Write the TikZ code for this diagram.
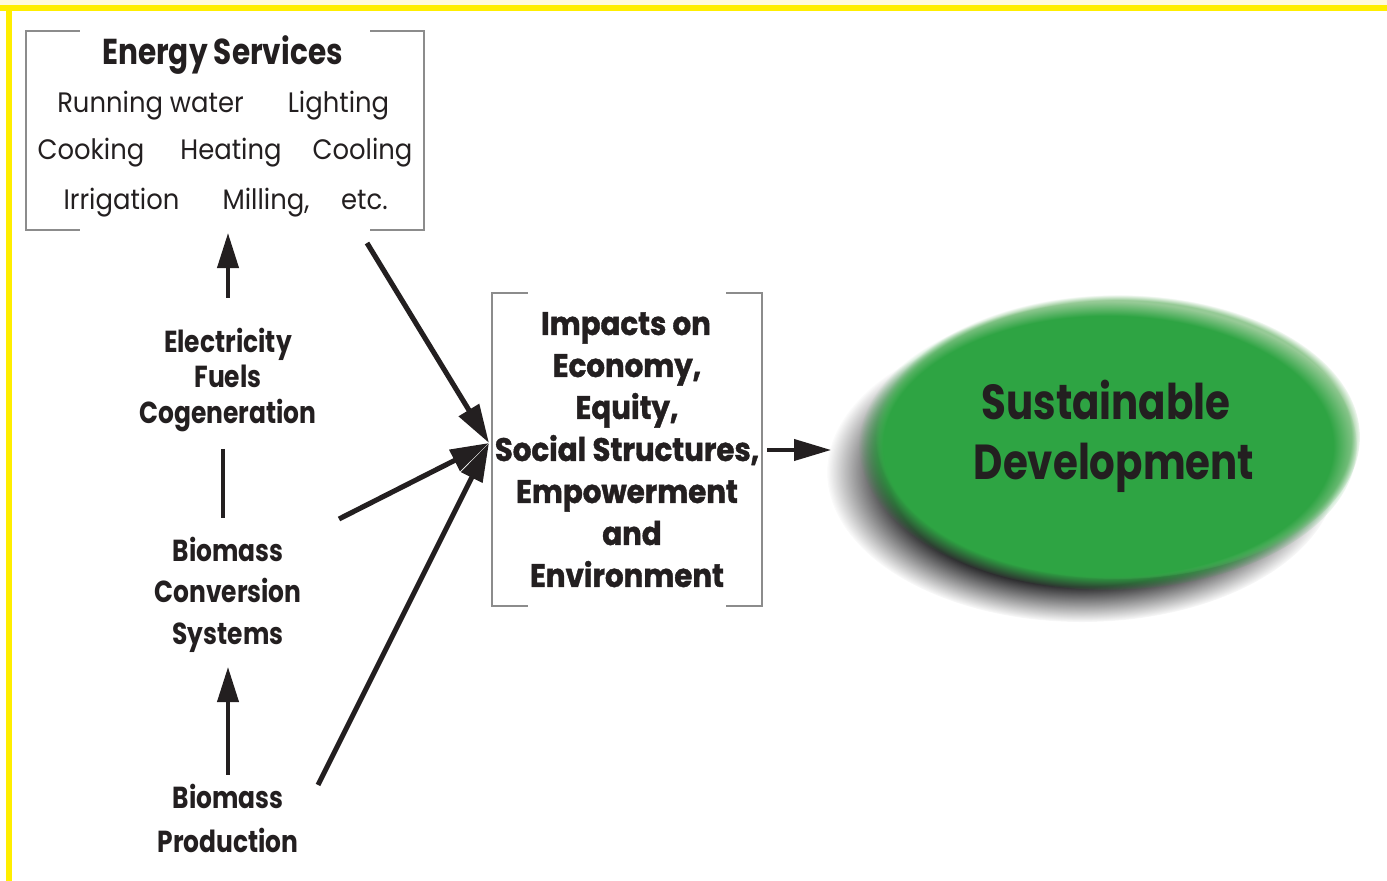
\documentclass[tikz,border=0pt]{standalone}
\usepackage{fontspec}
\setmainfont{Poppins}
\newfontfamily\regf[FakeStretch=0.92]{Poppins}
\newfontfamily\boldf[FakeStretch=0.82]{Poppins}
\newfontfamily\heavyf[FakeStretch=0.9,FakeBold=1.2]{Poppins}
\usetikzlibrary{arrows.meta,fadings}
\definecolor{borderyellow}{HTML}{FFEE00}
\definecolor{borderpale}{HTML}{FFFADC}
\definecolor{brk}{RGB}{140,140,140}
\definecolor{sdgreen}{RGB}{46,164,67}
\definecolor{sdlight}{RGB}{150,202,150}
\definecolor{txt}{RGB}{35,31,32}
\definecolor{shadowc}{RGB}{45,45,47}
\pgfdeclareradialshading{fuzzshadow}{\pgfpointorigin}{color(0bp)=(pgftransparent!0); color(19bp)=(pgftransparent!0); color(25bp)=(pgftransparent!100); color(50bp)=(pgftransparent!100)}
\pgfdeclarefading{shadowfuzz}{\pgfuseshading{fuzzshadow}}
\pgfdeclareradialshading{fuzzgreen}{\pgfpointorigin}{color(0bp)=(pgftransparent!0); color(22.5bp)=(pgftransparent!0); color(25bp)=(pgftransparent!100); color(50bp)=(pgftransparent!100)}
\pgfdeclarefading{greenfuzz}{\pgfuseshading{fuzzgreen}}
\pgfdeclareradialshading{fuzzlight}{\pgfpointorigin}{color(0bp)=(pgftransparent!0); color(24bp)=(pgftransparent!0); color(25bp)=(pgftransparent!100); color(50bp)=(pgftransparent!100)}
\pgfdeclarefading{lightfuzz}{\pgfuseshading{fuzzlight}}
\tikzset{
  regtxt/.style={font=\regf\fontsize{16}{16}\selectfont, text=txt, anchor=base, inner sep=0pt},
  titletxt/.style={font=\boldf\bfseries\fontsize{20.5}{20.5}\selectfont, text=txt, anchor=base, inner sep=0pt},
  lefttxt/.style={font=\boldf\bfseries\fontsize{17.3}{17.3}\selectfont, text=txt, anchor=base, inner sep=0pt},
  imptxt/.style={font=\heavyf\bfseries\fontsize{18.5}{18.5}\selectfont, text=txt, anchor=base, inner sep=0pt},
  sdtxt/.style={font=\boldf\bfseries\fontsize{28}{28}\selectfont, text=txt, anchor=base, inner sep=0pt},
  bracket/.style={draw=brk, line width=1.2pt},
  frame/.style={inner sep=0pt, draw=none},
  bigarrow/.style={draw=txt, line width=2.9pt, -{Triangle[length=22pt,width=13pt]}},
  uparrow/.style={draw=txt, line width=2.3pt, -{Triangle[length=20pt,width=12pt]}},
  thinarrow/.style={draw=txt, line width=2pt, -{Triangle[length=21pt,width=12pt]}},
  plainline/.style={draw=txt, line width=2.8pt}
}
\begin{document}
\begin{tikzpicture}[x=0.02cm,y=-0.02cm]
\useasboundingbox (0,0) rectangle (1387,881);
\fill[white] (0,0) rectangle (1387,881);
% yellow border
\fill[borderpale] (0,0) rectangle (1387,5);
\fill[borderyellow] (0,5) rectangle (1387,11);
\fill[borderyellow] (6,5) rectangle (12,881);

% ---- ellipse with shadow
\fill[shadowc, path fading=shadowfuzz] (1082,472) ellipse [x radius=255, y radius=150];
\fill[sdlight, path fading=lightfuzz] (1118,437) ellipse [x radius=242, y radius=142];
\fill[sdgreen, path fading=greenfuzz] (1108,446) ellipse [x radius=249, y radius=144];
\node[frame, minimum width=10cm, minimum height=5.8cm] (sd) at (1110,442) {};
\node[sdtxt] (sd1) at (1106,420) {Sustainable};
\node[sdtxt] (sd2) at (1114,480) {Development};

% ---- Energy services box
\node[frame, minimum width=7.96cm, minimum height=3.98cm] (es) at (225,130.5) {};
\draw[bracket] ([xshift=1.08cm]es.north west) -- (es.north west) -- (es.south west) -- ([xshift=1.08cm]es.south west);
\draw[bracket] ([xshift=-1.08cm]es.north east) -- (es.north east) -- (es.south east) -- ([xshift=-1.08cm]es.south east);
\node[titletxt] (estitle) at (222.5,65) {Energy Services};
\node[regtxt] (w1) at (150.5,113) {Running water};
\node[regtxt] (w2) at (338.5,113) {Lighting};
\node[regtxt] (w3) at (91,160) {Cooking};
\node[regtxt] (w4) at (231,160) {Heating};
\node[regtxt] (w5) at (362.5,160) {Cooling};
\node[regtxt] (w6) at (121.5,210) {Irrigation};
\node[regtxt] (w7) at (266,210) {Milling,};
\node[regtxt] (w8) at (364.5,210) {etc.};

% ---- left column
\node[lefttxt] (el1) at (228,353) {Electricity};
\node[lefttxt] (el2) at (228,388) {Fuels};
\node[lefttxt] (el3) at (228,424) {Cogeneration};
\node[lefttxt] (bc1) at (228,562) {Biomass};
\node[lefttxt] (bc2) at (228,603) {Conversion};
\node[lefttxt] (bc3) at (228,645) {Systems};
\node[lefttxt] (bp1) at (228,808) {Biomass};
\node[lefttxt] (bp2) at (228,852) {Production};

% ---- impacts box
\node[frame, minimum width=5.4cm, minimum height=6.26cm] (imp) at (627,449.5) {};
\draw[bracket] ([xshift=0.72cm]imp.north west) -- (imp.north west) -- (imp.south west) -- ([xshift=0.72cm]imp.south west);
\draw[bracket] ([xshift=-0.72cm]imp.north east) -- (imp.north east) -- (imp.south east) -- ([xshift=-0.72cm]imp.south east);
\node[imptxt] (i1) at (626,335) {Impacts on};
\node[imptxt] (i2) at (627,377) {Economy,};
\node[imptxt] (i3) at (627,419) {Equity,};
\node[imptxt] (i4) at (627,461) {Social Structures,};
\node[imptxt] (i5) at (627,503) {Empowerment};
\node[imptxt] (i6) at (632,545) {and};
\node[imptxt] (i7) at (627,587) {Environment};

% ---- connector end points
\coordinate (upAs) at (228,298);
\coordinate (upAe) at (228,233);
\coordinate (linA) at (223,449);
\coordinate (linB) at (223,518);
\coordinate (upBs) at (228,775);
\coordinate (upBe) at (228,667);
\coordinate (d1s) at (367,243);
\coordinate (d2s) at (339,519);
\coordinate (d3s) at (318,785);
\coordinate (conv) at (489,443);
\coordinate (toS) at (767,450);
\coordinate (toE) at (831,450);

\draw[uparrow] (upAs) -- (upAe);
\draw[plainline] (linA) -- (linB);
\draw[uparrow] (upBs) -- (upBe);
\draw[bigarrow] (d1s) -- (conv);
\draw[bigarrow] (d2s) -- (conv);
\draw[bigarrow] (d3s) -- (conv);
\draw[thinarrow] (toS) -- (toE);
\end{tikzpicture}
\end{document}
